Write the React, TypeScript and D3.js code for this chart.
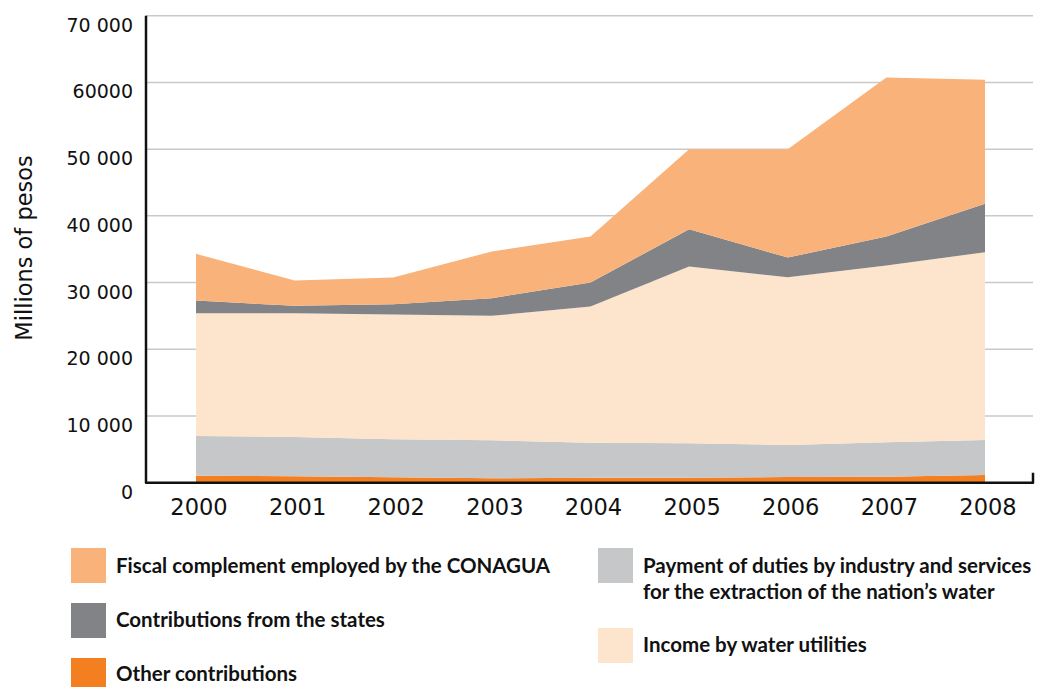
import React from "react";
import * as d3 from "d3";

const years = [2000, 2001, 2002, 2003, 2004, 2005, 2006, 2007, 2008];
const otherContributions = [1050, 960, 810, 660, 750, 750, 850, 900, 1150];
const paymentOfDuties = [5950, 5900, 5700, 5700, 5250, 5150, 4800, 5150, 5250];
const incomeUtilities = [18400, 18550, 18700, 18650, 20400, 26500, 25150, 26500, 28150];
const contributionsStates = [1900, 1100, 1550, 2650, 3600, 5600, 2950, 4350, 7250];
const fiscalComplement = [7000, 3800, 4000, 7000, 6900, 12000, 16250, 23850, 18600];

const yTicks = [0, 10000, 20000, 30000, 40000, 50000, 60000, 70000];
const yTickLabels = ["0", "10 000", "20 000", "30 000", "40 000", "50 000", "60000", "70 000"];

const seriesKeys = ["other", "duties", "income", "states", "fiscal"];
const seriesColors: Record<string, string> = {
  other: "#F47F21",
  duties: "#C6C7C9",
  income: "#FDE4CD",
  states: "#828387",
  fiscal: "#F9B27A",
};

const legendLeft = [
  { key: "fiscal", lines: ["Fiscal complement employed by the CONAGUA"] },
  { key: "states", lines: ["Contributions from the states"] },
  { key: "other", lines: ["Other contributions"] },
];
const legendRight = [
  { key: "duties", lines: ["Payment of duties by industry and services", "for the extraction of the nation\u2019s water"] },
  { key: "income", lines: ["Income by water utilities"] },
];

export default function App() {
  const W = 1037;
  const H = 687;
  const x = d3.scaleLinear().domain([2000, 2008]).range([196, 985]);
  const y = d3.scaleLinear().domain([0, 70000]).range([482.7, 15.7]);

  const table = years.map((yr, i) => ({
    year: yr,
    other: otherContributions[i],
    duties: paymentOfDuties[i],
    income: incomeUtilities[i],
    states: contributionsStates[i],
    fiscal: fiscalComplement[i],
  }));
  const stacked = d3.stack<any>().keys(seriesKeys)(table);
  const area = d3
    .area<any>()
    .x((d) => x(d.data.year))
    .y0((d) => y(d[0]))
    .y1((d) => y(d[1]));

  const axisLeft = 146;
  const axisRight = 1033;
  const tickFont = "'DejaVu Sans', sans-serif";
  const legendFont = "Lato, 'Open Sans', sans-serif";
  const legendSize = 20.5;

  return (
    <svg
      width={W}
      height={H}
      style={{ position: "absolute", left: 0, top: 0, background: "#fff" }}
    >
      {yTicks.map((t) => (
        <line
          key={"g" + t}
          x1={axisLeft}
          x2={axisRight}
          y1={y(t)}
          y2={y(t)}
          stroke="#c9c9cb"
          strokeWidth={1.5}
        />
      ))}
      {stacked.map((s) => (
        <path key={s.key} d={area(s) || ""} fill={seriesColors[s.key]} />
      ))}
      <path
        d={`M${axisLeft},${y(70000)} L${axisLeft},${y(0)} L${axisRight},${y(0)} L${axisRight},${y(0) - 10}`}
        fill="none"
        stroke="#111"
        strokeWidth={2.5}
        strokeLinejoin="round"
      />
      {yTicks.map((t, i) => (
        <text
          key={"yl" + t}
          x={133}
          y={y(t) + 9}
          textAnchor="end"
          dominantBaseline="central"
          fontFamily={tickFont}
          fontSize={19}
          fill="#111"
        >
          {yTickLabels[i]}
        </text>
      ))}
      {years.map((yr) => (
        <text
          key={"xl" + yr}
          x={x(yr) + 3}
          y={515}
          textAnchor="middle"
          fontFamily={tickFont}
          fontSize={22.5}
          fill="#111"
        >
          {yr}
        </text>
      ))}
      <text
        transform={`translate(32,248) rotate(-90)`}
        textAnchor="middle"
        fontFamily={tickFont}
        fontSize={22.5}
        fill="#111"
      >
        Millions of pesos
      </text>
      {legendLeft.map((item, i) => (
        <g key={item.key}>
          <rect x={71} y={548 + i * 55} width={35} height={35} fill={seriesColors[item.key]} />
          {item.lines.map((ln, j) => (
            <text
              key={j}
              x={116}
              y={573 + i * 54 + j * 26}
              fontFamily={legendFont}
              fontWeight={700}
              fontSize={legendSize}
              fill="#111"
            >
              {ln}
            </text>
          ))}
        </g>
      ))}
      {legendRight.map((item, i) => (
        <g key={item.key}>
          <rect x={598} y={548 + i * 80} width={35} height={35} fill={seriesColors[item.key]} />
          {item.lines.map((ln, j) => (
            <text
              key={j}
              x={643}
              y={573 + i * 79 + j * 26}
              fontFamily={legendFont}
              fontWeight={700}
              fontSize={legendSize}
              fill="#111"
            >
              {ln}
            </text>
          ))}
        </g>
      ))}
    </svg>
  );
}
